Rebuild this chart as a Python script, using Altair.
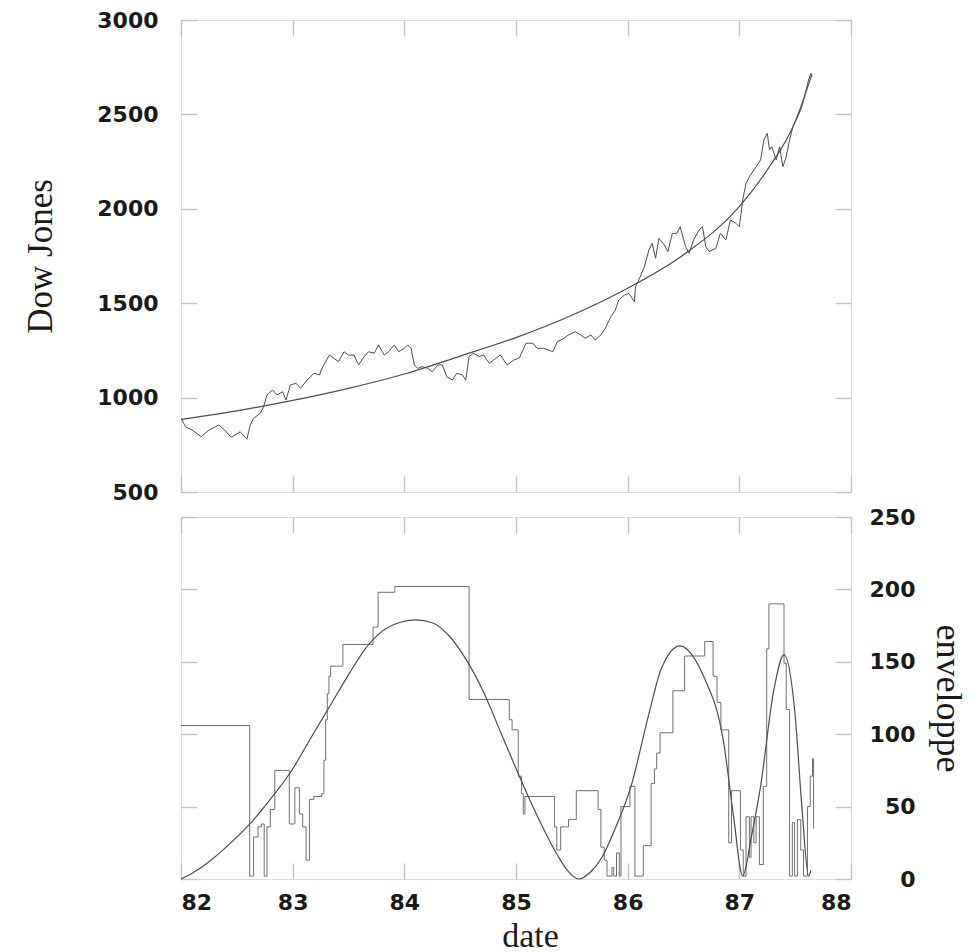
import altair as alt
import pandas as pd

# ---- data ----
dow_date = [82.006, 82.04, 82.10, 82.18, 82.25, 82.34, 82.39, 82.45, 82.53, 82.59,
            82.62, 82.65, 82.71, 82.74, 82.77, 82.82, 82.86, 82.91, 82.94, 82.98,
            83.03, 83.07, 83.13, 83.19, 83.24, 83.27, 83.33, 83.37, 83.41, 83.46,
            83.50, 83.55, 83.59, 83.64, 83.68, 83.73, 83.77, 83.82, 83.86, 83.91,
            83.95, 84.00, 84.03, 84.06, 84.09, 84.12, 84.16, 84.21, 84.25, 84.30,
            84.34, 84.38, 84.43, 84.47, 84.52, 84.55, 84.58, 84.62, 84.67, 84.71,
            84.76, 84.82, 84.86, 84.92, 84.98, 85.03, 85.09, 85.15, 85.19, 85.25,
            85.33, 85.37, 85.43, 85.47, 85.53, 85.58, 85.62, 85.67, 85.71, 85.76,
            85.80, 85.85, 85.89, 85.92, 85.97, 86.01, 86.06, 86.07, 86.10, 86.15,
            86.19, 86.22, 86.25, 86.28, 86.33, 86.36, 86.40, 86.44, 86.47, 86.50,
            86.52, 86.55, 86.59, 86.64, 86.67, 86.70, 86.73, 86.79, 86.83, 86.88,
            86.92, 86.97, 87.00, 87.03, 87.06, 87.10, 87.15, 87.19, 87.22, 87.25,
            87.27, 87.29, 87.33, 87.36, 87.39, 87.42, 87.45, 87.48, 87.50, 87.53,
            87.56, 87.59, 87.62, 87.64, 87.65]
dow_value = [885, 846, 828, 793, 828, 855, 828, 790, 819, 779,
             855, 890, 917, 952, 1014, 1040, 1014, 1031, 987, 1067,
             1076, 1049, 1093, 1129, 1120, 1164, 1226, 1208, 1190, 1243,
             1225, 1225, 1173, 1217, 1243, 1235, 1279, 1226, 1243, 1279,
             1243, 1261, 1279, 1261, 1173, 1155, 1164, 1155, 1137, 1173,
             1173, 1111, 1093, 1129, 1120, 1093, 1217, 1235, 1217, 1226,
             1182, 1208, 1226, 1173, 1199, 1210, 1288, 1288, 1261, 1261,
             1243, 1296, 1314, 1332, 1349, 1332, 1314, 1332, 1305, 1332,
             1367, 1429, 1464, 1517, 1543, 1552, 1508, 1587, 1623, 1693,
             1782, 1817, 1738, 1844, 1808, 1773, 1870, 1870, 1905, 1840,
             1799, 1764, 1835, 1888, 1905, 1799, 1773, 1791, 1870, 1835,
             1941, 1923, 1905, 2047, 2135, 2179, 2223, 2259, 2365, 2400,
             2312, 2329, 2259, 2329, 2223, 2276, 2365, 2435, 2461, 2497,
             2541, 2612, 2682, 2718, 2700]

fit_date = [82.0, 82.5, 83.0, 83.5, 84.0, 84.5, 85.0, 85.5, 86.0, 86.5,
            87.0, 87.25, 87.5, 87.65]
fit_value = [885, 930, 985, 1049, 1125, 1220, 1318, 1436, 1579, 1757,
             2011, 2206, 2461, 2712]

env_date = [82.00, 82.615, 82.65, 82.69, 82.72, 82.745, 82.77, 82.80, 82.84, 82.97,
            83.02, 83.06, 83.09, 83.12, 83.15, 83.19, 83.26, 83.28, 83.295, 83.31,
            83.325, 83.34, 83.45, 83.72, 83.765, 83.915, 84.58, 84.94, 84.965, 85.02,
            85.05, 85.065, 85.08, 85.345, 85.365, 85.40, 85.47, 85.54, 85.735, 85.76,
            85.79, 85.815, 85.86, 85.875, 85.90, 85.925, 85.94, 86.02, 86.065, 86.14,
            86.21, 86.24, 86.26, 86.29, 86.405, 86.51, 86.69, 86.765, 86.80, 86.835,
            86.905, 86.93, 87.01, 87.035, 87.06, 87.09, 87.105, 87.13, 87.15, 87.18,
            87.215, 87.245, 87.265, 87.40, 87.42, 87.45, 87.475, 87.495, 87.52, 87.55,
            87.575, 87.61, 87.635, 87.655, 87.665, 87.67]
env_value = [106, 2, 29, 36, 38, 2, 36, 48, 75, 38,
             63, 45, 36, 13, 55, 57, 59, 82, 110, 128,
             140, 147, 162, 174, 198, 202, 124, 110, 103, 71,
             59, 45, 57, 36, 20, 36, 41, 61, 48, 22,
             13, 2, 8, 2, 18, 2, 50, 64, 2, 23,
             66, 76, 87, 101, 130, 154, 164, 140, 122, 103,
             25, 61, 20, 2, 43, 15, 43, 25, 43, 10,
             64, 159, 190, 149, 117, 2, 39, 2, 41, 20,
             2, 50, 71, 83, 35, 35]

osc_date = [82.00, 82.10, 82.20, 82.30, 82.46, 82.64, 82.82, 83.00, 83.16, 83.33,
            83.50, 83.65, 83.80, 83.95, 84.10, 84.25, 84.40, 84.55, 84.71, 84.87,
            85.03, 85.20, 85.36, 85.46, 85.56, 85.67, 85.77, 85.90, 86.03, 86.19,
            86.30, 86.47, 86.60, 86.68, 86.86, 86.95, 87.03, 87.11, 87.19, 87.31,
            87.40, 87.50, 87.56, 87.62, 87.64]
osc_value = [0, 4, 9, 15, 26, 40, 57, 76, 97, 119,
             141, 159, 171, 177, 179, 177, 168, 152, 129, 100,
             71, 42, 18, 6, 0, 5, 15, 37, 64, 114,
             145, 161, 152, 140, 94, 42, 2, 30, 64, 131,
             155, 113, 50, 2, 6]

x_ticks = [82, 83, 84, 85, 86, 87, 88]
dow_ticks = [500, 1000, 1500, 2000, 2500, 3000]
env_ticks = [0, 50, 100, 150, 200, 250]

# ---- tables ----
df_dow = pd.DataFrame({"date": dow_date, "value": dow_value})
df_fit = pd.DataFrame({"date": fit_date, "value": fit_value})
df_env = pd.DataFrame({"date": env_date, "value": env_value})
df_osc = pd.DataFrame({"date": osc_date, "value": osc_value})

FRAME = "#c4c4c4"
LINE = "#4d4d4d"
TXT = "#1a1a1a"

tick_style = dict(domain=False, grid=False, ticks=True, tickSize=16, offset=-16,
                  tickColor=FRAME, tickWidth=1.5, minExtent=0, format="d",
                  labelFont="DejaVu Sans", labelFontSize=22, labelFontWeight="bold",
                  labelColor=TXT,
                  titleFont="Liberation Serif",
                  titleFontWeight="normal", titleColor=TXT)

xscale = alt.Scale(domain=[82, 88], nice=False, zero=False)
y_top = alt.Scale(domain=[500, 3000], nice=False, zero=False)
y_bot = alt.Scale(domain=[0, 250], nice=False, zero=False)

# ---- top panel ----
top_line = alt.Chart(df_dow).mark_line(color=LINE, strokeWidth=1).encode(
    x=alt.X("date:Q", scale=xscale,
            axis=alt.Axis(orient="bottom", values=x_ticks, labels=False, title=None, **tick_style)),
    y=alt.Y("value:Q", scale=y_top,
            axis=alt.Axis(orient="left", values=dow_ticks, title="Dow Jones", titleFontSize=35,
                          labelPadding=23, titlePadding=38, **tick_style)),
)
top_fit = alt.Chart(df_fit).mark_line(color=LINE, strokeWidth=1.2, interpolate="monotone").encode(
    x=alt.X("date:Q", scale=xscale,
            axis=alt.Axis(orient="top", values=x_ticks, labels=False, title=None, **tick_style)),
    y=alt.Y("value:Q", scale=y_top,
            axis=alt.Axis(orient="right", values=dow_ticks, labels=False, title=None, **tick_style)),
)
top = alt.layer(top_line, top_fit).resolve_axis(x="independent", y="independent").properties(
    width=670, height=472)

# ---- bottom panel ----
bot_env = alt.Chart(df_env).mark_line(color="#707070", strokeWidth=1, interpolate="step-after").encode(
    x=alt.X("date:Q", scale=xscale,
            axis=alt.Axis(orient="bottom", values=x_ticks, title="date", titleFontSize=34,
                          labelPadding=13, titlePadding=6, titleX=349, **tick_style)),
    y=alt.Y("value:Q", scale=y_bot,
            axis=alt.Axis(orient="left", values=env_ticks, labels=False, title=None, **tick_style)),
)
bot_osc = alt.Chart(df_osc).mark_line(color=LINE, strokeWidth=1.2, interpolate="monotone").encode(
    x=alt.X("date:Q", scale=xscale,
            axis=alt.Axis(orient="top", values=x_ticks, labels=False, title=None, **tick_style)),
    y=alt.Y("value:Q", scale=y_bot,
            axis=alt.Axis(orient="right", values=env_ticks, title="enveloppe", titleFontSize=36,
                          labelAlign="right", labelPadding=64, titlePadding=13, **tick_style)),
)
bottom = alt.layer(bot_env, bot_osc).resolve_axis(x="independent", y="independent").properties(
    width=670, height=362)

chart = alt.vconcat(top, bottom, spacing=25, bounds="flush").configure_view(
    stroke=FRAME, strokeWidth=2
).configure(background="white", padding={"left": 23, "top": 8, "right": 4, "bottom": 0})

chart.save("out.html", embed_options={"renderer": "svg", "actions": False})
